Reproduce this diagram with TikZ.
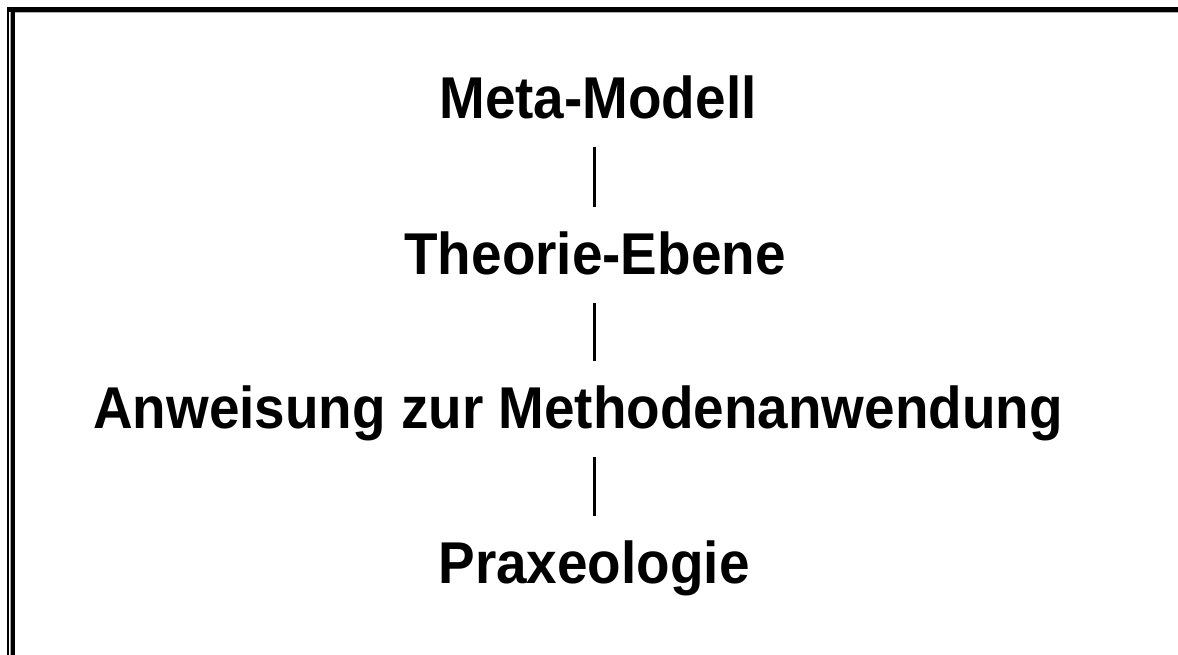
\documentclass[tikz,border=0pt]{standalone}
\usepackage{fontspec}
\setmainfont{Liberation Sans}
\newfontfamily\labelfont[FakeStretch=0.93]{Liberation Sans}
\begin{document}
\begin{tikzpicture}[x=1pt,y=-1pt,
  label/.style={font=\labelfont\fontsize{59}{60}\selectfont\bfseries, inner sep=0pt, text height=42pt, text depth=0pt, anchor=south},
  conn/.style={line width=3pt, shorten <=28pt, shorten >=26pt}]
\useasboundingbox (0,0) rectangle (1178,655);
\fill[white] (0,0) rectangle (1178,655);
% frame
\fill[black] (7,7) rectangle (9,655);
\fill[gray!70] (10,12) rectangle (11,655);
\fill[black] (11,12) rectangle (15,655);
\fill[black] (7,7) rectangle (1178,12);
\fill[gray!60] (15,12) rectangle (1178,13);
% axis
\coordinate (ax) at (594,0);
\node[label] (meta) at (598,119) {Meta-Modell};
\node[label] (theo) at (595,275) {Theorie-Ebene};
\node[label] (anw)  at (578,429) {Anweisung zur Methodenanwendung};
\node[label] (prax) at (594,584) {Praxeologie};
\draw[conn] (meta.south -| ax) -- (theo.north -| ax);
\draw[conn] (theo.south -| ax) -- (anw.north -| ax);
\draw[conn] (anw.south -| ax) -- (prax.north -| ax);
\end{tikzpicture}
\end{document}
